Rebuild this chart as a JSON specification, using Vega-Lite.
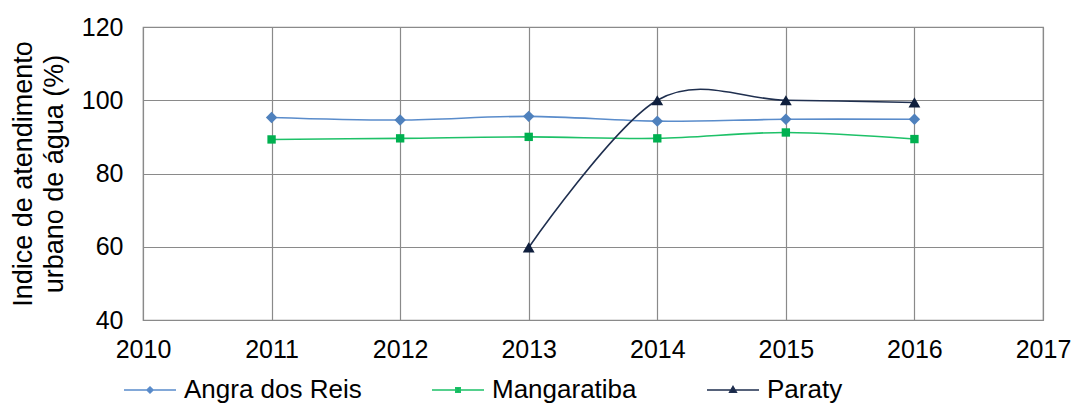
{
  "$schema": "https://vega.github.io/schema/vega-lite/v6.json",
  "width": 900,
  "height": 293,
  "autosize": {"type": "none"},
  "padding": {"left": 143, "top": 27, "right": 32, "bottom": 86},
  "background": "white",
  "config": {
    "font": "Liberation Sans",
    "view": {"stroke": "#8a8a8a", "strokeWidth": 1.2}
  },
  "data": {
    "values": [
      {"year": 2011, "series": "Angra dos Reis", "value": 95.3},
      {"year": 2012, "series": "Angra dos Reis", "value": 94.6},
      {"year": 2013, "series": "Angra dos Reis", "value": 95.6},
      {"year": 2014, "series": "Angra dos Reis", "value": 94.3},
      {"year": 2015, "series": "Angra dos Reis", "value": 94.8},
      {"year": 2016, "series": "Angra dos Reis", "value": 94.8},
      {"year": 2011, "series": "Mangaratiba", "value": 89.3},
      {"year": 2012, "series": "Mangaratiba", "value": 89.6},
      {"year": 2013, "series": "Mangaratiba", "value": 90.0},
      {"year": 2014, "series": "Mangaratiba", "value": 89.6},
      {"year": 2015, "series": "Mangaratiba", "value": 91.2},
      {"year": 2016, "series": "Mangaratiba", "value": 89.4},
      {"year": 2013, "series": "Paraty", "value": 59.8},
      {"year": 2014, "series": "Paraty", "value": 100.0},
      {"year": 2015, "series": "Paraty", "value": 100.0},
      {"year": 2016, "series": "Paraty", "value": 99.4}
    ]
  },
  "encoding": {
    "x": {
      "field": "year", "type": "quantitative",
      "scale": {"domain": [2010, 2017], "nice": false, "zero": false},
      "axis": {
        "title": null, "values": [2010, 2011, 2012, 2013, 2014, 2015, 2016, 2017],
        "format": "d", "labelFontSize": 25, "labelColor": "#000", "labelPadding": 17, "labelFlush": false,
        "ticks": false, "domain": false, "grid": true, "gridColor": "#8a8a8a", "gridWidth": 1.2
      }
    },
    "y": {
      "field": "value", "type": "quantitative",
      "scale": {"domain": [40, 120], "nice": false, "zero": false},
      "axis": {
        "title": ["Indice de atendimento", "urbano de água (%)"],
        "titleFontSize": 27, "titleFontWeight": "normal", "titleColor": "#000", "titlePadding": 13, "titleLineHeight": 31,
        "values": [40, 60, 80, 100, 120],
        "labelFontSize": 25, "labelColor": "#000", "labelPadding": 20, "labelFlush": false,
        "ticks": false, "domain": false, "grid": true, "gridColor": "#8a8a8a", "gridWidth": 1.2
      }
    }
  },
  "layer": [
    {
      "mark": {"type": "line", "interpolate": "cardinal", "strokeWidth": 1.6},
      "encoding": {
        "color": {
          "field": "series", "type": "nominal",
          "scale": {"domain": ["Angra dos Reis", "Mangaratiba", "Paraty"], "range": ["#5a8ccb", "#1ec168", "#1f2f4f"]},
          "legend": {
            "orient": "none", "legendX": -20, "legendY": 336, "direction": "horizontal",
            "title": null, "labelFontSize": 26, "labelColor": "#000", "labelLimit": 400,
            "symbolSize": 2704, "symbolStrokeWidth": 1.6, "columnPadding": 66, "labelOffset": 7,
            "encode": {
              "symbols": {
                "update": {
                  "shape": {"signal": "datum.value === 'Angra dos Reis' ? 'M-1,0L1,0M0,-0.115L0.115,0L0,0.115L-0.115,0Z' : datum.value === 'Mangaratiba' ? 'M-1,0L1,0M-0.085,-0.085L0.085,-0.085L0.085,0.085L-0.085,0.085Z' : 'M-1,0L1,0M0,-0.13L0.125,0.085L-0.125,0.085Z'"},
                  "fill": {"signal": "datum.value === 'Angra dos Reis' ? '#4f81bd' : datum.value === 'Mangaratiba' ? '#00b050' : '#0f1f3d'"},
                  "stroke": {"signal": "scale('color', datum.value)"},
                  "strokeWidth": {"value": 1.6},
                  "fillOpacity": {"value": 1},
                  "opacity": {"value": 1}
                }
              }
            }
          }
        }
      }
    },
    {
      "transform": [{"filter": "datum.series === 'Angra dos Reis'"}],
      "mark": {"type": "point", "filled": true, "opacity": 1, "shape": "diamond", "size": 130, "color": "#4f81bd"}
    },
    {
      "transform": [{"filter": "datum.series === 'Mangaratiba'"}],
      "mark": {"type": "point", "filled": true, "opacity": 1, "shape": "square", "size": 70, "color": "#00b050"}
    },
    {
      "transform": [{"filter": "datum.series === 'Paraty'"}],
      "mark": {"type": "point", "filled": true, "opacity": 1, "shape": "triangle-up", "size": 140, "color": "#0f1f3d"}
    }
  ]
}
